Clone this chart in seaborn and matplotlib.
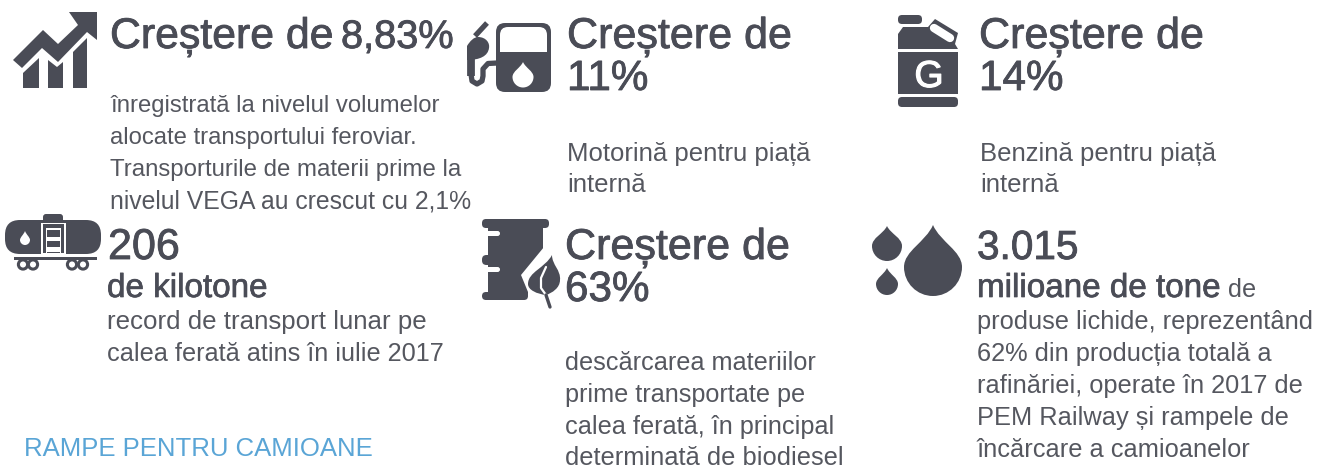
import matplotlib
matplotlib.use("Agg")
import matplotlib.pyplot as plt
import matplotlib.patheffects as pe
import seaborn as sns
from matplotlib.path import Path
from matplotlib.patches import PathPatch, FancyBboxPatch, Circle, Polygon, Rectangle

headings = ["Creștere de", "8,83%", "Creștere de", "11%", "Creștere de", "14%",
            "206", "Creștere de", "63%", "3.015"]
heading_x = [110, 341, 567, 567, 979, 979, 108, 565, 565, 977]
heading_y = [48, 48, 48, 90, 48, 90, 259, 259, 301, 259]
heading_sizes = [30.8, 28.6, 31, 30.4, 31, 30.4, 31, 31, 30.4, 29.2]

bold_lines = ["de kilotone", "milioane de tone"]
bold_x = [107, 977]
bold_y = [297, 297]

body_lines = ["înregistrată la nivelul volumelor", "alocate transportului feroviar.",
              "Transporturile de materii prime la", "nivelul VEGA au crescut cu 2,1%",
              "Motorină pentru piață", "internă", "Benzină pentru piață", "internă",
              "record de transport lunar pe", "calea ferată atins în iulie 2017",
              "descărcarea materiilor", "prime transportate pe", "calea ferată, în principal",
              "determinată de biodiesel", "de", "produse lichide, reprezentând",
              "62% din producția totală a", "rafinăriei, operate în 2017 de",
              "PEM Railway și rampele de", "încărcare a camioanelor"]
body_x = [110, 110, 110, 110, 567, 567, 980, 980, 107, 107, 565, 565, 565, 565,
          1228, 977, 977, 977, 977, 977]
body_y = [112, 144, 176, 208, 161, 192, 161, 192, 329, 361, 370, 402, 434, 465,
          297, 329, 361, 393, 425, 457]
body_sizes = [17.2, 17.2, 17.3, 17.8, 18.5, 18.5, 18.5, 18.5, 18.6, 18.2, 18.2, 18.2, 18.2, 18.4,
              18.2, 18.3, 18.3, 18.3, 18.3, 18.3]

section_label = "RAMPE PENTRU CAMIOANE"
dark = "#4a4c56"
body_color = "#55575f"
blue = "#5aa5d6"

sns.set_theme(style="white")
plt.rcParams["font.family"] = ["Liberation Sans", "DejaVu Sans"]

fig, ax = plt.subplots(figsize=(13.19, 4.66), dpi=100)
fig.subplots_adjust(0, 0, 1, 1)
ax.set_xlim(0, 1319)
ax.set_ylim(466, 0)
ax.axis("off")


def drop(cx, tip, cy, r, color=dark):
    k = 0.5523 * r
    verts = [(cx, tip), (cx + 0.25 * r, tip + 0.4 * (cy - tip)), (cx + r, cy - 0.55 * r), (cx + r, cy),
             (cx + r, cy + k), (cx + k, cy + r), (cx, cy + r),
             (cx - k, cy + r), (cx - r, cy + k), (cx - r, cy),
             (cx - r, cy - 0.55 * r), (cx - 0.25 * r, tip + 0.4 * (cy - tip)), (cx, tip), (cx, tip)]
    codes = [Path.MOVETO] + [Path.CURVE4] * 12 + [Path.CLOSEPOLY]
    ax.add_patch(PathPatch(Path(verts, codes), fc=color, ec="none"))


def rbox(x0, y0, x1, y1, r, color=dark):
    ax.add_patch(FancyBboxPatch((x0 + r, y0 + r), x1 - x0 - 2 * r, y1 - y0 - 2 * r,
                                boxstyle="round,pad=%f,rounding_size=%f" % (r, r), fc=color, ec="none"))


def poly(pts, color=dark):
    ax.add_patch(Polygon(pts, closed=True, fc=color, ec="none"))


def rect(x0, y0, x1, y1, color=dark):
    ax.add_patch(Rectangle((x0, y0), x1 - x0, y1 - y0, fc=color, ec="none"))


# growth chart icon
poly([(13, 60), (43, 30), (58, 44), (78, 25), (69, 12), (97, 12), (97, 40), (87, 32), (58, 62), (42, 48), (22, 68)])
poly([(23, 88), (23, 73), (39, 58), (39, 88)])
poly([(48, 88), (48, 60), (57, 67), (63, 62), (63, 88)])
poly([(73, 88), (73, 52), (87, 38), (87, 88)])

# fuel pump icon
rbox(496, 23, 551, 92, 9)
rbox(500, 27, 547, 62, 8, "white")
rect(500, 52, 547, 63)
drop(523, 62, 77, 10.5, "white")
ax.plot([487, 475], [23, 36], color=dark, lw=3.8, solid_capstyle="butt")
blob = Path([(467, 46), (470, 41), (474, 37), (478, 37), (486, 37), (490, 43), (489, 48),
             (488, 56), (480, 60), (467, 60), (467, 46)],
            [Path.MOVETO] + [Path.CURVE4] * 9 + [Path.CLOSEPOLY])
ax.add_patch(PathPatch(blob, fc=dark, ec="none"))
ax.plot([471, 471], [55, 76], color=dark, lw=5.6, solid_capstyle="butt")
ax.plot([471, 472, 477, 482, 483, 483, 488, 497], [74, 81, 84, 81, 76, 69, 63.5, 63],
        color=dark, lw=3.8, solid_capstyle="round")

# jerry can icon
rbox(898, 15, 922, 24, 4)
poly([(898, 49), (898, 34), (903, 27), (928, 27), (935, 19), (958, 33), (955, 44), (958, 49)])
ax.plot([934, 950], [28, 38], color="white", lw=6, solid_capstyle="round")
rect(898, 52, 958, 94)
rbox(898, 97, 958, 107, 4)
ax.text(929, 87, "G", fontsize=27, color="white", ha="center", va="baseline",
        path_effects=[pe.withStroke(linewidth=0.8, foreground="white")])

# tank wagon icon
rbox(5, 220, 101, 254, 15)
rbox(43, 214, 63, 224, 3)
rect(41, 223, 66, 255, "white")
rect(43, 224, 64, 255)
rect(46, 228, 61, 256, "white")
rect(47, 230, 60, 237)
rect(47, 241, 60, 247)
rect(47, 252, 60, 256)
rect(41, 253, 66, 256, "white")
drop(25, 231, 240, 5, "white")
rect(14, 256.5, 97, 260)
for wx in [23, 33, 72, 83]:
    ax.add_patch(Circle((wx, 264.5), 4.6, fc="white", ec=dark, lw=2.2))

# barrel and leaf icon
rect(488, 225, 543, 296)
rbox(482, 219, 549, 228, 4)
rbox(482, 255, 505, 265, 4.5)
rbox(482, 292, 528, 300, 4)
rbox(480, 231, 500, 236, 2.5, "white")
rbox(480, 267, 500, 272, 2.5, "white")
poly([(544, 247), (521, 275), (528, 292), (528, 301), (548, 301), (548, 247)], "white")
leaf = Path([(552, 255), (552, 265), (561, 270), (560, 280), (560, 288), (552, 293), (546, 295),
             (537, 294), (528, 290), (528, 284), (528, 272), (545, 268), (552, 255), (552, 255)],
            [Path.MOVETO] + [Path.CURVE4] * 12 + [Path.CLOSEPOLY])
ax.add_patch(PathPatch(leaf, fc=dark, ec="none"))
ax.plot([546, 541, 541, 546], [267, 278, 288, 295], color="white", lw=1.6)
ax.plot([546, 548, 550], [295, 301, 307], color=dark, lw=2.4, solid_capstyle="round")

# drops icon
drop(933, 225, 267, 29)
drop(887, 226, 246, 15)
drop(887, 268, 284, 11)

for t, x, y, s in zip(headings, heading_x, heading_y, heading_sizes):
    ax.text(x, y, t, fontsize=s, color=dark, va="baseline", ha="left",
            path_effects=[pe.withStroke(linewidth=0.6, foreground=dark)])
for t, x, y in zip(bold_lines, bold_x, bold_y):
    ax.text(x, y, t, fontsize=23.9, color=dark, va="baseline", ha="left",
            path_effects=[pe.withStroke(linewidth=0.5, foreground=dark)])
for t, x, y, s in zip(body_lines, body_x, body_y, body_sizes):
    ax.text(x, y, t, fontsize=s, color=body_color, va="baseline", ha="left")
ax.text(24, 456, section_label, fontsize=18.5, color=blue, va="baseline", ha="left")

fig.savefig("out.png", dpi=100)
